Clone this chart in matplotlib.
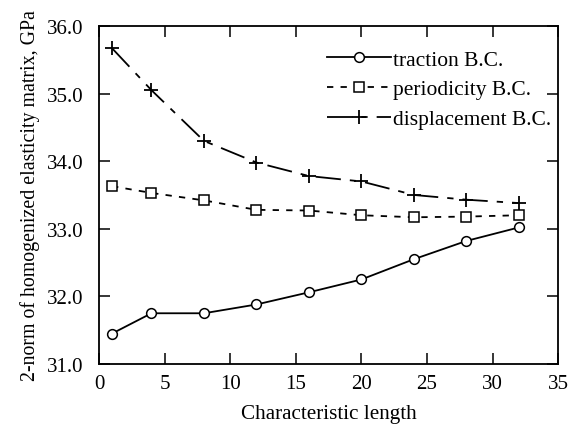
import numpy as np
import matplotlib.pyplot as plt

plt.rcParams['font.family'] = ['Liberation Serif', 'DejaVu Serif']
plt.rcParams['font.size'] = 15

# data
longueur = [1, 4, 8, 12, 16, 20, 24, 28, 32]
traction = [31.45, 31.75, 31.75, 31.88, 32.06, 32.25, 32.55, 32.82, 33.02]
periodicite = [33.63, 33.53, 33.42, 33.28, 33.27, 33.20, 33.17, 33.18, 33.20]
deplacement = [35.67, 35.05, 34.30, 33.98, 33.78, 33.70, 33.50, 33.43, 33.38]
xticks = [0, 5, 10, 15, 20, 25, 30, 35]
yticks = [31.0, 32.0, 33.0, 34.0, 35.0, 36.0]

fig = plt.figure(figsize=(5.72, 4.35), dpi=100)
ax = fig.add_axes([0.173, 0.161, 0.803, 0.777])

ax.plot(longueur, traction, color='black', lw=1.3, marker='o', ms=7,
        mfc='white', mec='black', mew=1.1, label='traction B.C.')
ax.plot(longueur, periodicite, color='black', lw=1.3, ls=(0, (3.5, 4)),
        marker='s', ms=7, mfc='white', mec='black', mew=1.1,
        label='periodicity B.C.')
ax.plot(longueur, deplacement, color='black', lw=1.3, ls=(0, (14, 5, 3.5, 5)),
        marker='+', ms=10, mew=1.3, label='displacement B.C.')

ax.set_xlim(0, 35)
ax.set_ylim(31.0, 36.0)
ax.set_xticks(xticks)
ax.set_yticks(yticks)
ax.set_yticklabels(['%.1f' % v for v in yticks])
ax.tick_params(direction='in', top=True, right=True, length=8, width=1.1,
               labelsize=15, pad=7)
ax.tick_params(axis='y', pad=11)
for s in ax.spines.values():
    s.set_linewidth(1.3)

ax.set_xlabel('Characteristic length', fontsize=15.2, labelpad=8)
ax.set_ylabel('2-norm of homogenized elasticity matrix, GPa', fontsize=14.3,
              labelpad=5)

ax.legend(loc='upper right', bbox_to_anchor=(0.985, 0.93), frameon=False,
          handlelength=3.0, handletextpad=0.1, borderaxespad=0.0,
          borderpad=0.0, labelspacing=0.45, fontsize=15.5)

fig.savefig('out.png', dpi=100)
